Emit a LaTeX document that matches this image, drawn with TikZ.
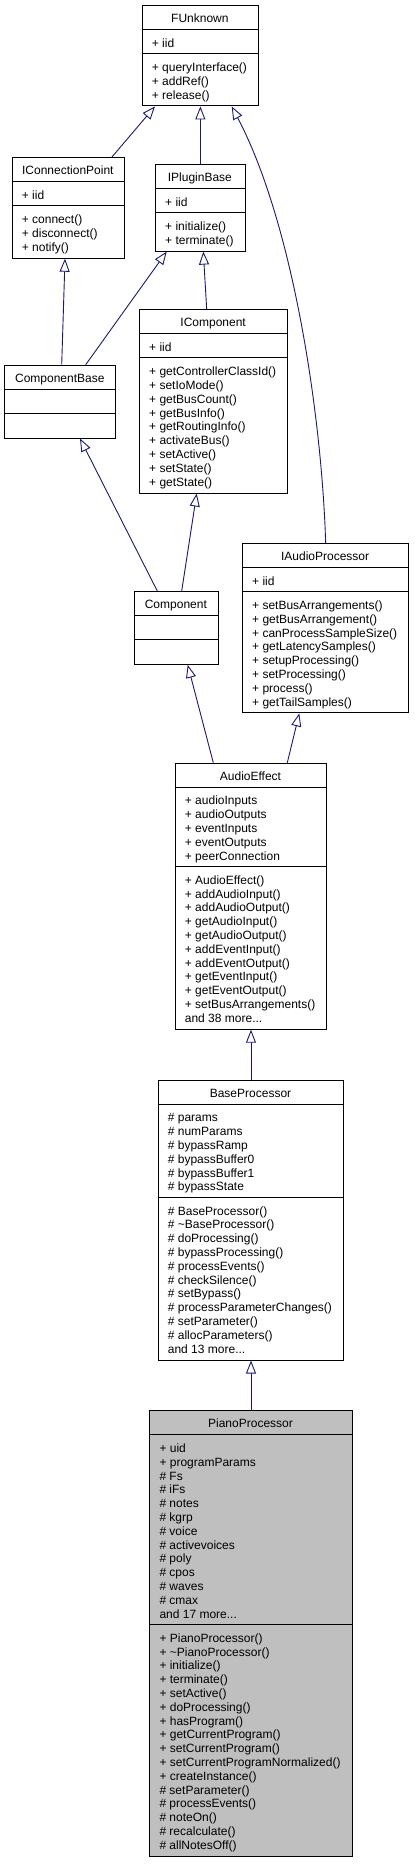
\documentclass[tikz,border=0pt]{standalone}
\usepackage{fontspec}
\setmainfont{Liberation Sans}
\usetikzlibrary{arrows.meta,calc}
\definecolor{edgeblue}{HTML}{191970}
\definecolor{grayfill}{HTML}{BFBFBF}
\tikzset{
  classbox/.style={draw=black, line width=1pt, fill=white, inner sep=0pt, anchor=north west},
  ctext/.style={inner sep=0pt, text height=8.6pt, text depth=0pt, font=\fontsize{12}{14}\selectfont},
  inherit/.style={draw=edgeblue, line width=0.9pt, -{Triangle[open, length=13pt, width=10pt, fill=white]}},
  divider/.style={draw=black, line width=1pt},
}
\newcommand\andmore[1]{and #1 more...}
\newcommand\umlclass[8]{%
  \gdef\umlna{1}\gdef\umlnm{1}%
  \foreach \t [count=\i] in {#7} {\xdef\umlna{\i}}%
  \foreach \t [count=\i] in {#8} {\xdef\umlnm{\i}}%
  \pgfmathsetmacro\umlya{#3+24.4}%
  \pgfmathsetmacro\umlym{\umlya+13.8*\umlna+10.4}%
  \pgfmathsetmacro\umlyb{\umlym+13.8*\umlnm+10.4}%
  \pgfmathsetmacro\umlh{\umlyb-#3}%
  \node[classbox, #5, minimum width=#4pt, minimum height=\umlh pt] (#1) at (#2,#3) {};
  \draw[divider] (#2,\umlya) -- ({#2+#4},\umlya);
  \draw[divider] (#2,\umlym) -- ({#2+#4},\umlym);
  \node[ctext, anchor=center] (#1-title) at ({#2+#4/2},{#3+13.3}) {#6};
  \foreach \t [count=\i] in {#7} {\node[ctext, anchor=west] (#1-a\i) at ({#2+10},{\umlya+13.5+13.8*(\i-1)}) {\t};}
  \foreach \t [count=\i] in {#8} {\node[ctext, anchor=west] (#1-m\i) at ({#2+10},{\umlym+13.5+13.8*(\i-1)}) {\t};}
}
\begin{document}
\begin{tikzpicture}[x=1pt,y=-1pt]
\useasboundingbox (0,0) rectangle (415,1864);

\umlclass{funk}{141.7}{5}{116.3}{}{FUnknown}{+ iid}{+ queryInterface(),+ addRef(),+ release()}
\umlclass{icp}{11.7}{157.3}{112.3}{}{IConnectionPoint}{+ iid}{+ connect(),+ disconnect(),+ notify()}
\umlclass{ipb}{155}{164}{89.7}{}{IPluginBase}{+ iid}{+ initialize(),+ terminate()}
\umlclass{icomp}{139}{309.3}{148.3}{}{IComponent}{+ iid}{+ getControllerClassId(),+ setIoMode(),+ getBusCount(),+ getBusInfo(),+ getRoutingInfo(),+ activateBus(),+ setActive(),+ setState(),+ getState()}
\umlclass{cb}{4.3}{364.7}{111}{}{ComponentBase}{}{}
\umlclass{iap}{242}{543}{166.3}{}{IAudioProcessor}{+ iid}{+ setBusArrangements(),+ getBusArrangement(),+ canProcessSampleSize(),+ getLatencySamples(),+ setupProcessing(),+ setProcessing(),+ process(),+ getTailSamples()}
\umlclass{comp}{134}{591}{83.7}{}{Component}{}{}
\umlclass{ae}{174.7}{762.7}{151.6}{}{AudioEffect}{+ audioInputs,+ audioOutputs,+ eventInputs,+ eventOutputs,+ peerConnection}{+ AudioEffect(),+ addAudioInput(),+ addAudioOutput(),+ getAudioInput(),+ getAudioOutput(),+ addEventInput(),+ addEventOutput(),+ getEventInput(),+ getEventOutput(),+ setBusArrangements(),\andmore{38}}
\umlclass{bp}{157.7}{1079.7}{185.6}{}{BaseProcessor}{\# params,\# numParams,\# bypassRamp,\# bypassBuffer0,\# bypassBuffer1,\# bypassState}{\# BaseProcessor(),\# \textasciitilde BaseProcessor(),\# doProcessing(),\# bypassProcessing(),\# processEvents(),\# checkSilence(),\# setBypass(),\# processParameterChanges(),\# setParameter(),\# allocParameters(),\andmore{13}}
\umlclass{pp}{149.3}{1410.3}{202.4}{fill=grayfill}{PianoProcessor}{+ uid,+ programParams,\# Fs,\# iFs,\# notes,\# kgrp,\# voice,\# activevoices,\# poly,\# cpos,\# waves,\# cmax,\andmore{17}}{+ PianoProcessor(),+ \textasciitilde PianoProcessor(),+ initialize(),+ terminate(),+ setActive(),+ doProcessing(),+ hasProgram(),+ getCurrentProgram(),+ setCurrentProgram(),+ setCurrentProgramNormalized(),+ createInstance(),\# setParameter(),\# processEvents(),\# noteOn(),\# recalculate(),\# allNotesOff()}

\draw[inherit] ($(icp.north west)+(100,0)$) -- ($(funk.south west)+(13.3,0)$);
\draw[inherit] (ipb.north) -- (ipb.north |- funk.south);
\draw[inherit] (iap.north) .. controls (322,420) and (294,225) .. ($(funk.south west)+(90,0)$);
\draw[inherit] ($(cb.north west)+(57.4,0)$) -- ($(icp.south west)+(53.3,0)$);
\draw[inherit] ($(cb.north west)+(81.4,0)$) -- ($(ipb.south west)+(11.7,0)$);
\draw[inherit] ($(icomp.north west)+(67.7,0)$) -- ($(ipb.south west)+(48.3,0)$);
\draw[inherit] ($(comp.north west)+(23.3,0)$) -- ($(cb.south west)+(75.7,0)$);
\draw[inherit] ($(comp.north west)+(47.7,0)$) -- ($(icomp.south west)+(57.7,0)$);
\draw[inherit] ($(ae.north west)+(38.6,0)$) -- ($(comp.south west)+(53.7,0)$);
\draw[inherit] ($(ae.north west)+(112.6,0)$) -- ($(iap.south west)+(57.3,0)$);
\draw[inherit] (bp.north) -- (ae.south);
\draw[inherit] (pp.north) -- (bp.south);
\end{tikzpicture}
\end{document}
